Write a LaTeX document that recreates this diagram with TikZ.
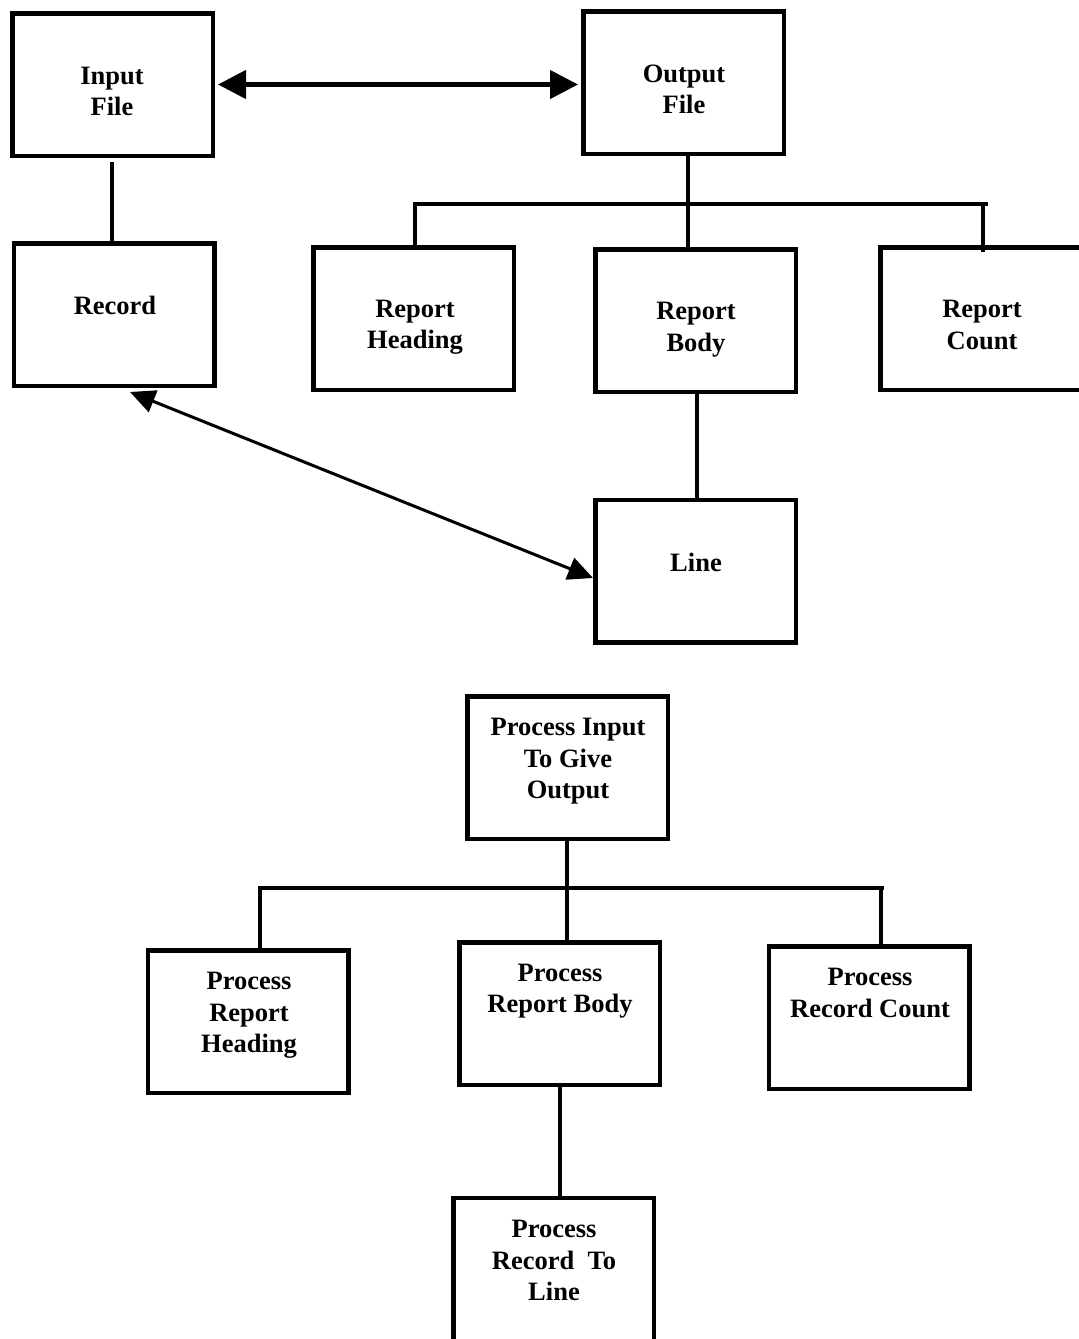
\documentclass[tikz,border=0pt]{standalone}
\usepackage{fontspec}
\setmainfont{Liberation Serif}
\usetikzlibrary{arrows.meta}

\begin{document}
\begin{tikzpicture}[
  x=1pt, y=-1pt,
  box/.style={draw, line width=4.5pt, rectangle, minimum width=200.5pt,
              minimum height=142.5pt, inner sep=0pt, fill=white},
  lbl/.style={align=center, inner sep=0pt,
              font=\fontsize{26.5}{31.5}\selectfont\bfseries},
  link/.style={line width=4.5pt},
  bigtip/.style={line width=4.5pt, {Triangle[length=28pt,width=28pt]}-{Triangle[length=28pt,width=28pt]}},
  diagtip/.style={line width=3pt, {Triangle[length=25pt,width=23pt]}-{Triangle[length=25pt,width=23pt]}}
]
\useasboundingbox[fill=white] (0,0) rectangle (1079,1339);

% ---- data structures ----
\node[box] (inF)  at (112.5, 84.5)  {};
\node[box] (outF) at (683.5, 82.5)  {};
\node[box] (rec)  at (114, 314.5)   {};
\node[box] (rh)   at (413.5, 318.5) {};
\node[box] (rb)   at (695.5, 320.5) {};
\node[box] (rc)   at (980.5, 318.5) {};
\node[box] (ln)   at (695.5, 571)   {};

\node[lbl] (tinF)  at (112, 91.5)  {Input\\File};
\node[lbl] (toutF) at (684, 89.5)  {Output\\File};
\node[lbl] (trec)  at (115, 305)   {Record};
\node[lbl] (trh)   at (415, 327)   {Report\\Heading};
\node[lbl] (trb)   at (696, 329.5) {Report\\Body};
\node[lbl] (trc)   at (982, 325)   {Report\\Count};
\node[lbl] (tln)   at (696, 562)   {Line};

% ---- program structure ----
\node[box] (pin) at (567.5, 767.5)  {};
\node[box] (prh) at (248, 1021.5)   {};
\node[box] (prb) at (559.5, 1013.5) {};
\node[box] (prc) at (869, 1017.5)   {};
\node[box, minimum height=170pt] (prl) at (553.5, 1283) {};

\node[lbl] (tpin) at (568, 761.5)  {Process Input\\To Give\\Output};
\node[lbl] (tprh) at (249, 1015.5) {Process\\Report\\Heading};
\node[lbl] (tprb) at (560, 991)    {Process\\Report Body};
\node[lbl] (tprc) at (870, 993)    {Process\\Record Count};
\node[lbl] (tprl) at (554, 1260.5) {Process\\Record\ \ To\\Line};

% ---- helper points for the buses ----
\coordinate (ob)  at (688, 204);
\coordinate (obL) at (415, 204);
\coordinate (obR) at (988, 204);
\coordinate (obC) at (983, 204);
\coordinate (pb)  at (567, 888);
\coordinate (pbL) at (260, 888);
\coordinate (pbR) at (884, 888);
\coordinate (pbC) at (881, 888);

% ---- connectors: top half ----
\draw[bigtip, shorten <=3pt, shorten >=3pt] (inF.east) -- (inF.east -| outF.west);
\draw[link] ([yshift=-4pt]inF.south -| 112,0) -- ([yshift=-2pt]rec.north -| 112,0);
\draw[link] (outF.south -| ob) -- ([yshift=-1pt]rb.north -| ob);
\draw[link] ([yshift=-5pt]rh.north -| obL) -- (obL) -- (obR);
\draw[link] (obC) -- ([yshift=-7pt]rc.north -| obC);
\draw[link] (rb.south -| 697,0) -- (ln.north -| 697,0);
\coordinate (d1) at ([xshift=16pt,yshift=-4pt]rec.south);
\coordinate (d2) at ([yshift=-7pt]ln.west);
\draw[diagtip] (d1) -- (d2);

% ---- connectors: bottom half ----
\draw[link] (pin.south -| pb) -- (prb.north -| pb);
\draw[link] ([yshift=-2pt]prh.north -| pbL) -- (pbL) -- (pbR);
\draw[link] (pbC) -- (prc.north -| pbC);
\draw[link] (prb.south -| 560,0) -- (prl.north -| 560,0);
\end{tikzpicture}
\end{document}
